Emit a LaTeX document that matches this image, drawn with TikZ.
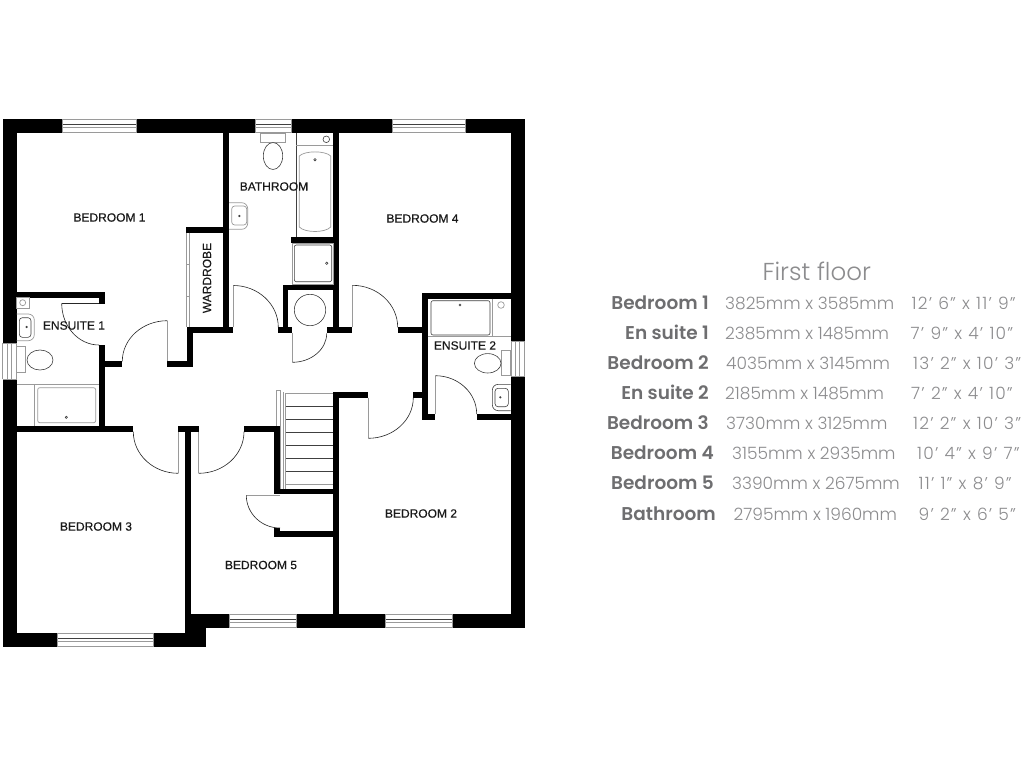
\documentclass[tikz,border=0pt]{standalone}
\usepackage{fontspec}
\usetikzlibrary{calc}
\setmainfont{Liberation Sans}
\newfontfamily\roomfont[FakeBold=0.25]{Liberation Sans}
\newfontfamily\valfont{Poppins Light}
\newfontfamily\impfont[LetterSpace=7]{Poppins Light}
\newfontfamily\labfont{Poppins SemiBold}
\definecolor{labgrey}{HTML}{6E6E70}
\definecolor{valgrey}{HTML}{8C8C8E}
\definecolor{fixgrey}{HTML}{9A9A9A}
\newcommand{\impt}[1]{\spaceskip=6.2pt\relax #1}
\tikzset{
  wallfill/.style={fill=black},
  fixture/.style={draw=fixgrey,line width=0.7pt},
  fixdark/.style={draw=black!75,line width=0.6pt},
  roomlabel/.style={inner sep=0pt,font=\roomfont\fontsize{12}{12}\selectfont,text=black!90},
  leaf/.style={draw=fixgrey,line width=0.8pt},
  swing/.style={draw=black!85,line width=0.6pt},
  headlabel/.style={inner sep=0pt,anchor=base east,font=\labfont\fontsize{18.5}{19}\selectfont,text=labgrey},
  vallabel/.style={inner sep=0pt,anchor=base west,font=\valfont\fontsize{17}{18}\selectfont,text=valgrey},
  implabel/.style={inner sep=0pt,anchor=base west,font=\impfont\fontsize{17}{18}\selectfont,text=valgrey},
}
\newcommand{\wl}[4]{\fill[wallfill] (#1,#2) rectangle (#3,#4);}
% hinge, leaf end, swing end
\newcommand{\doorleaf}[6]{%
  \draw[leaf] (#1,#2) -- (#3,#4);
  \draw[swing] (#3,#4) .. controls ($(#3,#4)+0.5523*(#5,#6)-0.5523*(#1,#2)$) and ($(#5,#6)+0.5523*(#3,#4)-0.5523*(#1,#2)$) .. (#5,#6);}
\newcommand{\winh}[3]{% x0 x1 ytop, horizontal window 14 high
  \fill[white] (#1,#3) rectangle (#2,#3+14);
  \draw[fixture] (#1,#3+.3) -- (#2,#3+.3);
  \draw[fixdark] (#1,#3+5) -- (#2,#3+5);
  \draw[fixture] (#1,#3+8.5) -- (#2,#3+8.5);
  \draw[fixture] (#1,#3+13.7) -- (#2,#3+13.7);
  \draw[fixture] (#1,#3) -- (#1,#3+14);
  \draw[fixture] (#2,#3) -- (#2,#3+14);}
\newcommand{\winv}[3]{% xleft y0 y1
  \fill[white] (#1,#2) rectangle (#1+14.2,#3);
  \draw[fixture] (#1+.3,#2) -- (#1+.3,#3);
  \draw[fixture] (#1+5,#2) -- (#1+5,#3);
  \draw[fixture] (#1+9,#2) -- (#1+9,#3);
  \draw[fixture] (#1+13.9,#2) -- (#1+13.9,#3);
  \draw[fixture] (#1,#2) -- (#1+14.2,#2);
  \draw[fixture] (#1,#3) -- (#1+14.2,#3);}
\begin{document}
\begin{tikzpicture}[x=1pt,y=-1pt]
\useasboundingbox (0,0) rectangle (1024,768);
\fill[white] (0,0) rectangle (1024,768);
% stairs (under the walls)
\foreach \ty in {406,419.3,432.3,445.7,458.3,471.7}{\draw[fixdark] (285.7,\ty) -- (333,\ty);}
\draw[fixture] (285.7,393.3) -- (333,393.3);
\draw[fixture] (285.7,484) -- (333,484);
\draw[fixture] (276.3,390) rectangle (280.5,489);
\draw[fixture] (283,392) -- (283,489);
\draw[fixture] (285.7,393) -- (285.7,489);
% outer walls
\wl{2.5}{119}{525}{133.3}
\wl{2.5}{119}{16.7}{646.7}
\wl{510.7}{119}{525}{628.3}
\wl{191}{614}{525}{628.3}
\wl{2.5}{633}{205.7}{646.7}
\wl{191}{614}{205.7}{646.7}
% windows
\winh{62.3}{136}{119}
\winh{255}{291}{119}
\winh{392.3}{465.7}{119}
\winh{57.7}{153.3}{633}
\winh{229}{296}{614}
\winh{385.3}{452.7}{614}
\winv{2.5}{343.3}{379}
\winv{510.8}{341.7}{376.7}
% interior walls
\wl{223}{133}{229}{332.7}
\wl{186}{226.7}{229}{232.7}
\wl{187.3}{327.3}{233.3}{332.7}
\wl{187.3}{327.3}{192.7}{367.3}
\wl{167.3}{361.3}{192.7}{367.3}
\wl{16.7}{291.7}{104.7}{297.7}
\wl{99}{291.7}{104.7}{304}
\wl{99}{345}{104.7}{431.7}
\wl{99}{361.3}{122.3}{367.3}
\wl{16.7}{425.7}{133.3}{431.7}
\wl{178.3}{425.7}{198.7}{431.7}
\wl{185.3}{425.7}{191.3}{640}
\wl{244}{425.7}{280}{431.7}
\wl{274}{425.7}{280}{494.3}
\wl{274}{489}{333.3}{494.3}
\wl{274}{531.3}{333.3}{537.3}
\wl{274}{528}{280}{537.3}
\wl{332.7}{391.7}{338.7}{614}
\wl{332.7}{391.7}{368.3}{397.7}
\wl{413.3}{391.7}{422.3}{397.7}
\wl{422}{292.7}{427.7}{420}
\wl{422}{292.7}{510.7}{298.7}
\wl{422}{414}{435.3}{420}
\wl{476.7}{414}{510.7}{420}
\wl{397.7}{327.3}{422}{333.3}
\wl{333.3}{133}{339.3}{333.3}
\wl{326.7}{327.3}{352.3}{333.3}
\wl{282.7}{285}{339.3}{290}
\wl{282.7}{285}{288.3}{333.3}
\wl{278.3}{327.3}{292.3}{333.3}
\wl{291}{237}{339.3}{242.7}
% doors
\doorleaf{99}{303.3}{61.7}{303.3}{99}{345}
\draw[swing] (61.7,303.3) -- (99,303.3);
\doorleaf{167.3}{361.3}{167.3}{320.7}{122.3}{361.3}
\doorleaf{178.3}{431.7}{178.3}{473.3}{133.3}{431.7}
\doorleaf{198.7}{431.7}{198.7}{473.3}{244}{431.7}
\doorleaf{233.3}{327.3}{233.3}{285.5}{278.3}{327.3}
\doorleaf{352.3}{327.3}{352.3}{285.3}{397.7}{327.3}
\doorleaf{292.3}{333.3}{292.3}{362.3}{326.7}{333.3}
\doorleaf{368.3}{397.7}{368.3}{438.3}{413.3}{397.7}
\doorleaf{435.3}{414}{435.3}{375.7}{476.7}{414}
\doorleaf{280}{495.3}{246.3}{495.3}{280}{528}
% airing cupboard
\draw[fixdark] (310,310) circle (15.7);
% bathroom fixtures
\draw[fixdark] (296.3,133) -- (296.3,237);
\draw[fixture] (296.3,145) -- (333.3,145);
\draw[fixdark] (326.3,139.3) circle (3.3);
\draw[fixture] (299.3,156) .. controls (305,150.5) and (325,150.5) .. (330.7,156) -- (330.7,227) .. controls (325,233) and (305,233) .. (299.3,227) -- cycle;
\draw[fixdark] (315,159.7) circle (1.2);
\draw[fixture] (292,243) rectangle (333.3,284);
\draw[fixdark,rounded corners=2pt] (294.3,245) rectangle (331.7,281.7);
\draw[fixdark] (326.7,263.3) circle (1.2);
\draw[fixture] (260.5,133) rectangle (285.7,142.3);
\draw[fixdark,fill=white] (273,156) ellipse [x radius=9.7,y radius=13.5];
\draw[fixture,rounded corners=6pt] (229,202.7) -- (247.7,202.7) -- (247.7,229.3) -- (229,229.3);
\draw[fixture,rounded corners=3pt] (231.7,206) rectangle (246.7,225);
\draw[fixdark] (239.3,216) circle (.8);
% wardrobe
\draw[fixture] (186.3,232.7) -- (186.3,327.3);
\draw[fixture] (189.3,232.7) -- (189.3,327.3);
\draw[fixture] (186.3,264) -- (189.3,264);
\draw[fixture] (186.3,296) -- (189.3,296);
% ensuite 1 fixtures
\draw[fixture] (16.7,297.7) rectangle (29,308.3);
\draw[fixture] (22.7,302.7) circle (3);
\draw[fixture,rounded corners=6pt] (16.7,314) -- (34.3,314) -- (34.3,340.7) -- (16.7,340.7);
\draw[fixdark,rounded corners=3pt] (19.3,317.7) rectangle (31,337.3);
\draw[fixdark] (26.7,327) circle (.8);
\draw[fixture] (16.7,346.7) rectangle (25.7,372.3);
\draw[fixdark,fill=white] (40,360) ellipse [x radius=13,y radius=10];
\draw[fixture] (16.7,384.3) -- (99,384.3);
\draw[fixture] (34.3,384.3) -- (34.3,425.7);
\draw[fixture,rounded corners=2pt] (37.7,387.7) rectangle (95.7,422.7);
\draw[fixdark] (66.3,417.3) circle (1.1);
% ensuite 2 fixtures
\draw[fixture] (427.7,336.7) -- (510.7,336.7);
\draw[fixture] (492.3,298.7) -- (492.3,336.7);
\draw[fixdark,rounded corners=2pt] (431,300.7) rectangle (490,335);
\draw[fixdark] (460,305) circle (1);
\draw[fixture] (501,305) circle (3.3);
\draw[fixture] (501.7,350.7) rectangle (510.7,375.7);
\draw[fixdark,fill=white] (487.7,363.3) ellipse [x radius=13.3,y radius=9.7];
\draw[fixdark,rounded corners=6pt] (510.7,384.3) -- (492.3,384.3) -- (492.3,410.7) -- (510.7,410.7);
\draw[fixdark,rounded corners=3pt] (495,388.3) rectangle (508.3,406.7);
\draw[fixdark] (500.3,397.3) circle (.8);
% room labels
\node[roomlabel] (bed1) at (109.5,217.5) {BEDROOM 1};
\node[roomlabel] (bath) at (274,186.5) {BATHROOM};
\node[roomlabel] (bed4) at (422.5,218.5) {BEDROOM 4};
\node[roomlabel,rotate=90] (ward) at (207,278) {WARDROBE};
\node[roomlabel] (ens1) at (74,325.5) {ENSUITE 1};
\node[roomlabel] (ens2) at (465,345.5) {ENSUITE 2};
\node[roomlabel] (bed3) at (96,526.5) {BEDROOM 3};
\node[roomlabel] (bed5) at (261,565) {BEDROOM 5};
\node[roomlabel] (bed2) at (421,513.5) {BEDROOM 2};
% schedule
\node[inner sep=0pt,font=\valfont\fontsize{24.5}{26}\selectfont,text=valgrey] (title) at (816.7,271) {First floor};
\node[headlabel] (a1) at (709,309.5) {Bedroom 1};
\node[vallabel] (b1) at (725,309.5) {3825mm x 3585mm};
\node[implabel] (c1) at (911.5,309.5) {\impt{12’ 6” x 11’ 9”}};
\node[headlabel] (a2) at (709,339.5) {En suite 1};
\node[vallabel] (b2) at (725,339.5) {2385mm x 1485mm};
\node[implabel] (c2) at (910.5,339.5) {\impt{7’ 9” x 4’ 10”}};
\node[headlabel] (a3) at (709,369.5) {Bedroom 2};
\node[vallabel] (b3) at (726,369.5) {4035mm x 3145mm};
\node[implabel] (c3) at (913,369.5) {\impt{13’ 2” x 10’ 3”}};
\node[headlabel] (a4) at (709,399.5) {En suite 2};
\node[vallabel] (b4) at (725,399.5) {2185mm x 1485mm};
\node[implabel] (c4) at (911,399.5) {\impt{7’ 2” x 4’ 10”}};
\node[headlabel] (a5) at (709,429.5) {Bedroom 3};
\node[vallabel] (b5) at (726,429.5) {3730mm x 3125mm};
\node[implabel] (c5) at (913,429.5) {\impt{12’ 2” x 10’ 3”}};
\node[headlabel] (a6) at (714,459.5) {Bedroom 4};
\node[vallabel] (b6) at (732,459.5) {3155mm x 2935mm};
\node[implabel] (c6) at (917,459.5) {\impt{10’ 4” x 9’ 7”}};
\node[headlabel] (a7) at (714,489.5) {Bedroom 5};
\node[vallabel] (b7) at (732,489.5) {3390mm x 2675mm};
\node[implabel] (c7) at (918.5,489.5) {\impt{11’ 1” x 8’ 9”}};
\node[headlabel] (a8) at (716,520) {Bathroom};
\node[vallabel] (b8) at (733.5,520) {2795mm x 1960mm};
\node[implabel] (c8) at (918.5,520) {\impt{9’ 2” x 6’ 5”}};
\end{tikzpicture}
\end{document}
